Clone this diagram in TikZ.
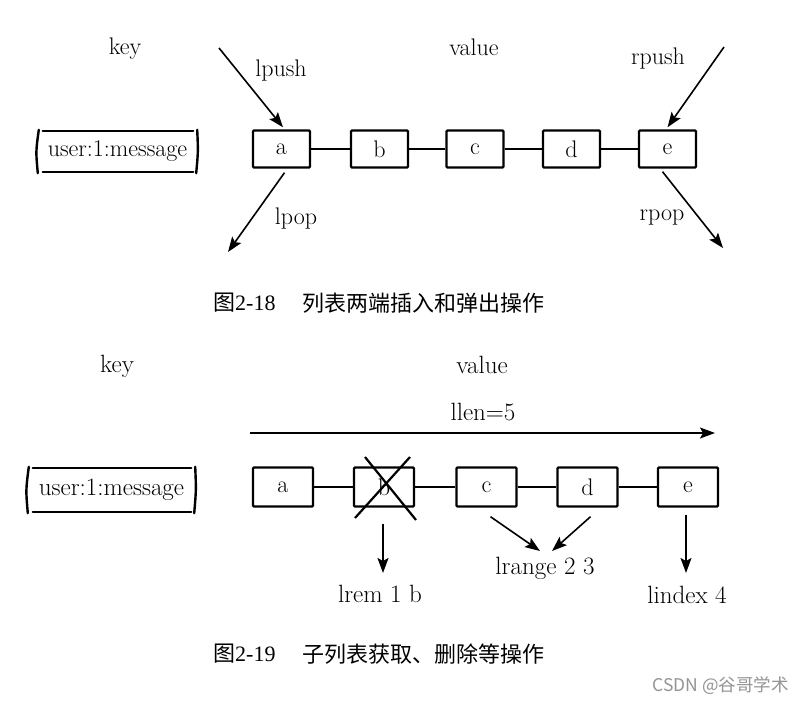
\documentclass[tikz,border=0pt]{standalone}
\usepackage{fontspec}
\newfontfamily\cjk{Noto Sans CJK SC}
\newfontfamily\tnr{Liberation Serif}
\usetikzlibrary{arrows.meta,calc}
\begin{document}
\begin{tikzpicture}[x=1pt,y=-1pt,
  lblA/.style={inner sep=0pt, font=\fontsize{24}{27}\selectfont},
  lblB/.style={inner sep=0pt, font=\fontsize{25}{28}\selectfont},
  cellA/.style={draw, line width=2.4pt, rounded corners=1pt, minimum width=57pt, minimum height=37pt, inner sep=0pt, font=\fontsize{24}{26}\selectfont},
  cellB/.style={draw, line width=2.4pt, rounded corners=1pt, minimum width=60pt, minimum height=39pt, inner sep=0pt, font=\fontsize{24}{26}\selectfont},
  keybox/.style={inner sep=0pt},
  keyline/.style={line width=2.4pt, line cap=round},
  link/.style={line width=1.4pt},
  arr/.style={line width=1.6pt, -{Stealth[length=15pt,width=11pt,inset=3pt]}},
  captext/.style={inner sep=0pt, anchor=west, font=\fontsize{22}{24}\selectfont}
]
\useasboundingbox[fill=white] (0,0) rectangle (803,703);

% ---------- Figure 2-18 ----------
\node[lblA] (key1) at (125,49) {key};
\node[lblA] (val1) at (474,47) {value};
\node[keybox, minimum width=159pt, minimum height=41pt, font=\fontsize{24}{27}\selectfont] (k1) at (117.5,151.5) {user:1:message};
\draw[keyline] ($(k1.north west)+(5,0)$) -- ($(k1.north east)+(-4,0)$);
\draw[keyline] ($(k1.south west)+(5,0)$) -- ($(k1.south east)+(-4,0)$);
\draw[keyline] ($(k1.north west)+(1,-1)$) .. controls ($(k1.west)+(-2,0)$) .. ($(k1.south west)+(0,1)$);
\draw[keyline] ($(k1.north east)+(0,-1)$) .. controls ($(k1.east)+(1,0)$) .. ($(k1.south east)+(-1,1)$);
\node[cellA] (a1) at (281.5,149) {a};
\node[cellA] (b1) at (379.5,149) {b};
\node[cellA] (c1) at (475,149) {c};
\node[cellA] (d1) at (571.5,149) {d};
\node[cellA] (e1) at (667.5,149) {e};
\draw[link] (a1) -- (b1);
\draw[link] (b1) -- (c1);
\draw[link] (c1) -- (d1);
\draw[link] (d1) -- (e1);

\coordinate (lpushs) at (219,48);
\coordinate (lpopt) at (228,252);
\coordinate (rpushs) at (724,47);
\coordinate (rpopt) at (723,248);
\draw[arr] (lpushs) -- ($(a1.north)+(1.5,-2)$);
\draw[arr] ($(a1.south)+(3,4)$) -- (lpopt);
\draw[arr] (rpushs) -- ($(e1.north)+(0,-2)$);
\draw[arr] ($(e1.south)+(-5,3)$) -- (rpopt);
\node[lblA] (lpush) at (281,71) {lpush};
\node[lblA] (lpop) at (296,219) {lpop};
\node[lblA] (rpush) at (658,59) {rpush};
\node[lblA] (rpop) at (662,218) {rpop};

\node[captext] (cap1a) at (213,303) {\cjk 图\tnr 2-18};
\node[captext] (cap1b) at (302,303) {\cjk 列表两端插入和弹出操作};

% ---------- Figure 2-19 ----------
\node[lblB] (key2) at (117,366) {key};
\node[lblB] (val2) at (482,365) {value};
\node[lblB] (llen) at (483,412) {llen=5};
\coordinate (llens) at (250,433);
\coordinate (llent) at (715,433);
\draw[arr] (llens) -- (llent);

\node[keybox, minimum width=167pt, minimum height=44pt, font=\fontsize{25}{28}\selectfont] (k2) at (111.5,490) {user:1:message};
\draw[keyline] ($(k2.north west)+(5,0)$) -- ($(k2.north east)+(-4,0)$);
\draw[keyline] ($(k2.south west)+(5,0)$) -- ($(k2.south east)+(-4,0)$);
\draw[keyline] ($(k2.north west)+(1,-1)$) .. controls ($(k2.west)+(-2,0)$) .. ($(k2.south west)+(0,1)$);
\draw[keyline] ($(k2.north east)+(0,-1)$) .. controls ($(k2.east)+(1,0)$) .. ($(k2.south east)+(-1,1)$);
\node[cellB] (a2) at (283,487) {a};
\node[cellB] (b2) at (384,487) {b};
\node[cellB] (c2) at (486.5,487) {c};
\node[cellB] (d2) at (587.5,487) {d};
\node[cellB] (e2) at (688,487) {e};
\draw[link] (a2) -- (b2);
\draw[link] (b2) -- (c2);
\draw[link] (c2) -- (d2);
\draw[link] (d2) -- (e2);
\draw[line width=2.2pt] ($(b2)+(-29,31)$) -- ($(b2)+(26,-30)$);
\draw[line width=2.2pt] ($(b2)+(-19,-30)$) -- ($(b2)+(32,33)$);

\node[lblB] (lrem) at (380,594) {lrem 1 b};
\node[lblB] (lrange) at (545,568) {lrange 2 3};
\node[lblB] (lindex) at (687,595) {lindex 4};
\coordinate (lremt) at (383,573);
\coordinate (lrt1) at (540,551);
\coordinate (lrt2) at (552,551);
\coordinate (lidt) at (686,573);
\draw[arr] ($(b2.south)+(-1,16)$) -- (lremt);
\draw[arr] ($(c2.south)+(4,9)$) -- (lrt1);
\draw[arr] ($(d2.south)+(3,9)$) -- (lrt2);
\draw[arr] ($(e2.south)+(-2,7)$) -- (lidt);

\node[captext] (cap2a) at (213,654) {\cjk 图\tnr 2-19};
\node[captext] (cap2b) at (302,654) {\cjk 子列表获取、删除等操作};

\node[inner sep=0pt, anchor=east, text=black!42, font=\fontsize{17.5}{19}\selectfont] (wm) at (789,686) {\cjk CSDN @谷哥学术};
\end{tikzpicture}
\end{document}
